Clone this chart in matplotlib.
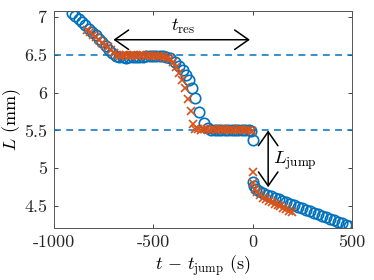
import matplotlib
matplotlib.use("Agg")
import matplotlib.pyplot as plt

plt.rcParams['mathtext.fontset'] = 'cm'
plt.rcParams['font.family'] = 'serif'
plt.rcParams['font.serif'] = ['cmr10']
plt.rcParams['axes.formatter.use_mathtext'] = True

# blue circles (time in s, length in mm)
blue_t = [-910, -893, -876, -859, -842, -825, -808, -791, -774, -757, -740, -723, -706, -689,
          -672, -655, -638, -621, -604, -587, -570, -553, -536, -519, -502, -485, -468, -451, -434,
          -416, -391, -371, -351, -336, -321, -306, -291, -271, -245, -225,
          -208, -191, -174, -157, -140, -123, -106, -89, -72, -55, -38, -21, -8, 0,
          0, 8, 18, 30, 50, 70, 90, 110, 130, 150, 170, 190, 210, 230, 250, 270, 290,
          310, 330, 350, 370, 390, 410, 430, 450, 470, 485]
blue_L = [7.06, 7.02, 6.97, 6.93, 6.89, 6.84, 6.80, 6.76, 6.71, 6.67, 6.62, 6.57, 6.52, 6.49,
          6.47, 6.47, 6.46, 6.47, 6.47, 6.47, 6.47, 6.47, 6.48, 6.48, 6.48, 6.48, 6.48, 6.48, 6.47,
          6.46, 6.41, 6.35, 6.30, 6.23, 6.17, 6.06, 5.93, 5.74, 5.60, 5.53,
          5.51, 5.51, 5.50, 5.51, 5.51, 5.51, 5.50, 5.50, 5.51, 5.50, 5.50, 5.50, 5.49, 5.37,
          4.82, 4.77, 4.73, 4.70, 4.67, 4.65, 4.63, 4.61, 4.59, 4.57, 4.55, 4.53, 4.51, 4.49, 4.47, 4.45, 4.43,
          4.41, 4.39, 4.37, 4.35, 4.33, 4.31, 4.29, 4.27, 4.25, 4.24]

# orange crosses
orange_t = [-835, -820, -805, -790, -775, -760, -745, -730, -715, -700, -685,
            -670, -655, -640, -625, -610, -595, -580, -565, -550, -535, -520, -505, -490, -475, -460, -445, -430,
            -415, -400, -385, -370, -355, -340, -325, -312, -300, -290,
            -275, -260, -245, -230, -215, -200, -185, -170, -155, -140, -125, -110, -95, -80, -65, -50, -35, -20, -5,
            0, 3, 10, 20, 35, 50, 65, 80, 95, 110, 125, 140, 155, 170, 185, 200]
orange_L = [6.83, 6.80, 6.76, 6.73, 6.70, 6.66, 6.63, 6.60, 6.56, 6.53, 6.50,
            6.49, 6.50, 6.50, 6.49, 6.50, 6.50, 6.49, 6.50, 6.50, 6.49, 6.50, 6.49, 6.49, 6.48, 6.48, 6.47, 6.46,
            6.44, 6.40, 6.34, 6.26, 6.17, 6.06, 5.92, 5.76, 5.59, 5.52,
            5.52, 5.51, 5.52, 5.52, 5.51, 5.52, 5.51, 5.52, 5.52, 5.51, 5.51, 5.52, 5.51, 5.51, 5.52, 5.51, 5.51, 5.50, 5.49,
            4.95, 4.80, 4.73, 4.68, 4.64, 4.61, 4.59, 4.57, 4.55, 4.53, 4.51, 4.50, 4.48, 4.46, 4.44, 4.42]

levels = [6.5, 5.5]
xticks = [-1000, -500, 0, 500]
xticklabels = ['-1000', '-500', '0', '500']
yticks = [4.5, 5, 5.5, 6, 6.5, 7]
yticklabels = ['4.5', '5', '5.5', '6', '6.5', '7']

blue = '#0072BD'
orange = '#D95319'

fig = plt.figure(figsize=(3.74, 2.8), dpi=100)
ax = fig.add_axes([0.1444, 0.1857, 0.7968, 0.775])

for lv in levels:
    ax.axhline(lv, color=blue, lw=1.1, dashes=(4.5, 3.5))

ax.plot(blue_t, blue_L, 'o', mfc='none', mec=blue, ms=7.5, mew=1.2)
ax.plot(orange_t, orange_L, 'x', color=orange, ms=6, mew=1.2)

# annotations
ax.annotate('', xy=(-715, 6.70), xytext=(0, 6.70),
            arrowprops=dict(arrowstyle='<->,head_length=0.5,head_width=0.35',
                            color='black', lw=1.1, mutation_scale=20))
ax.text(-350, 6.87, r'$t_{\rm res}$', ha='center', va='center', fontsize=13.5)
ax.annotate('', xy=(78, 5.5), xytext=(78, 4.75),
            arrowprops=dict(arrowstyle='<->,head_length=0.5,head_width=0.35',
                            color='black', lw=1.1, mutation_scale=20,
                            shrinkA=0, shrinkB=0))
ax.text(100, 5.1, r'$L_{\rm jump}$', ha='left', va='center', fontsize=13.5)

ax.set_xlim(-1000, 500)
ax.set_ylim(4.21, 7.08)
ax.set_xticks(xticks)
ax.set_xticklabels(xticklabels)
ax.set_yticks(yticks)
ax.set_yticklabels(yticklabels)
ax.tick_params(direction='in', length=3, width=0.6, top=True, right=True,
               labelsize=13, colors='#262626', pad=5)
for sp in ax.spines.values():
    sp.set_color('#555555')
    sp.set_linewidth(0.7)

ax.set_xlabel(r'$t\,-\,t_{\rm jump}$ (s)', fontsize=13, labelpad=2)
ax.set_ylabel(r'$L$ (mm)', fontsize=13, labelpad=1)

fig.savefig('out.png', dpi=100)
